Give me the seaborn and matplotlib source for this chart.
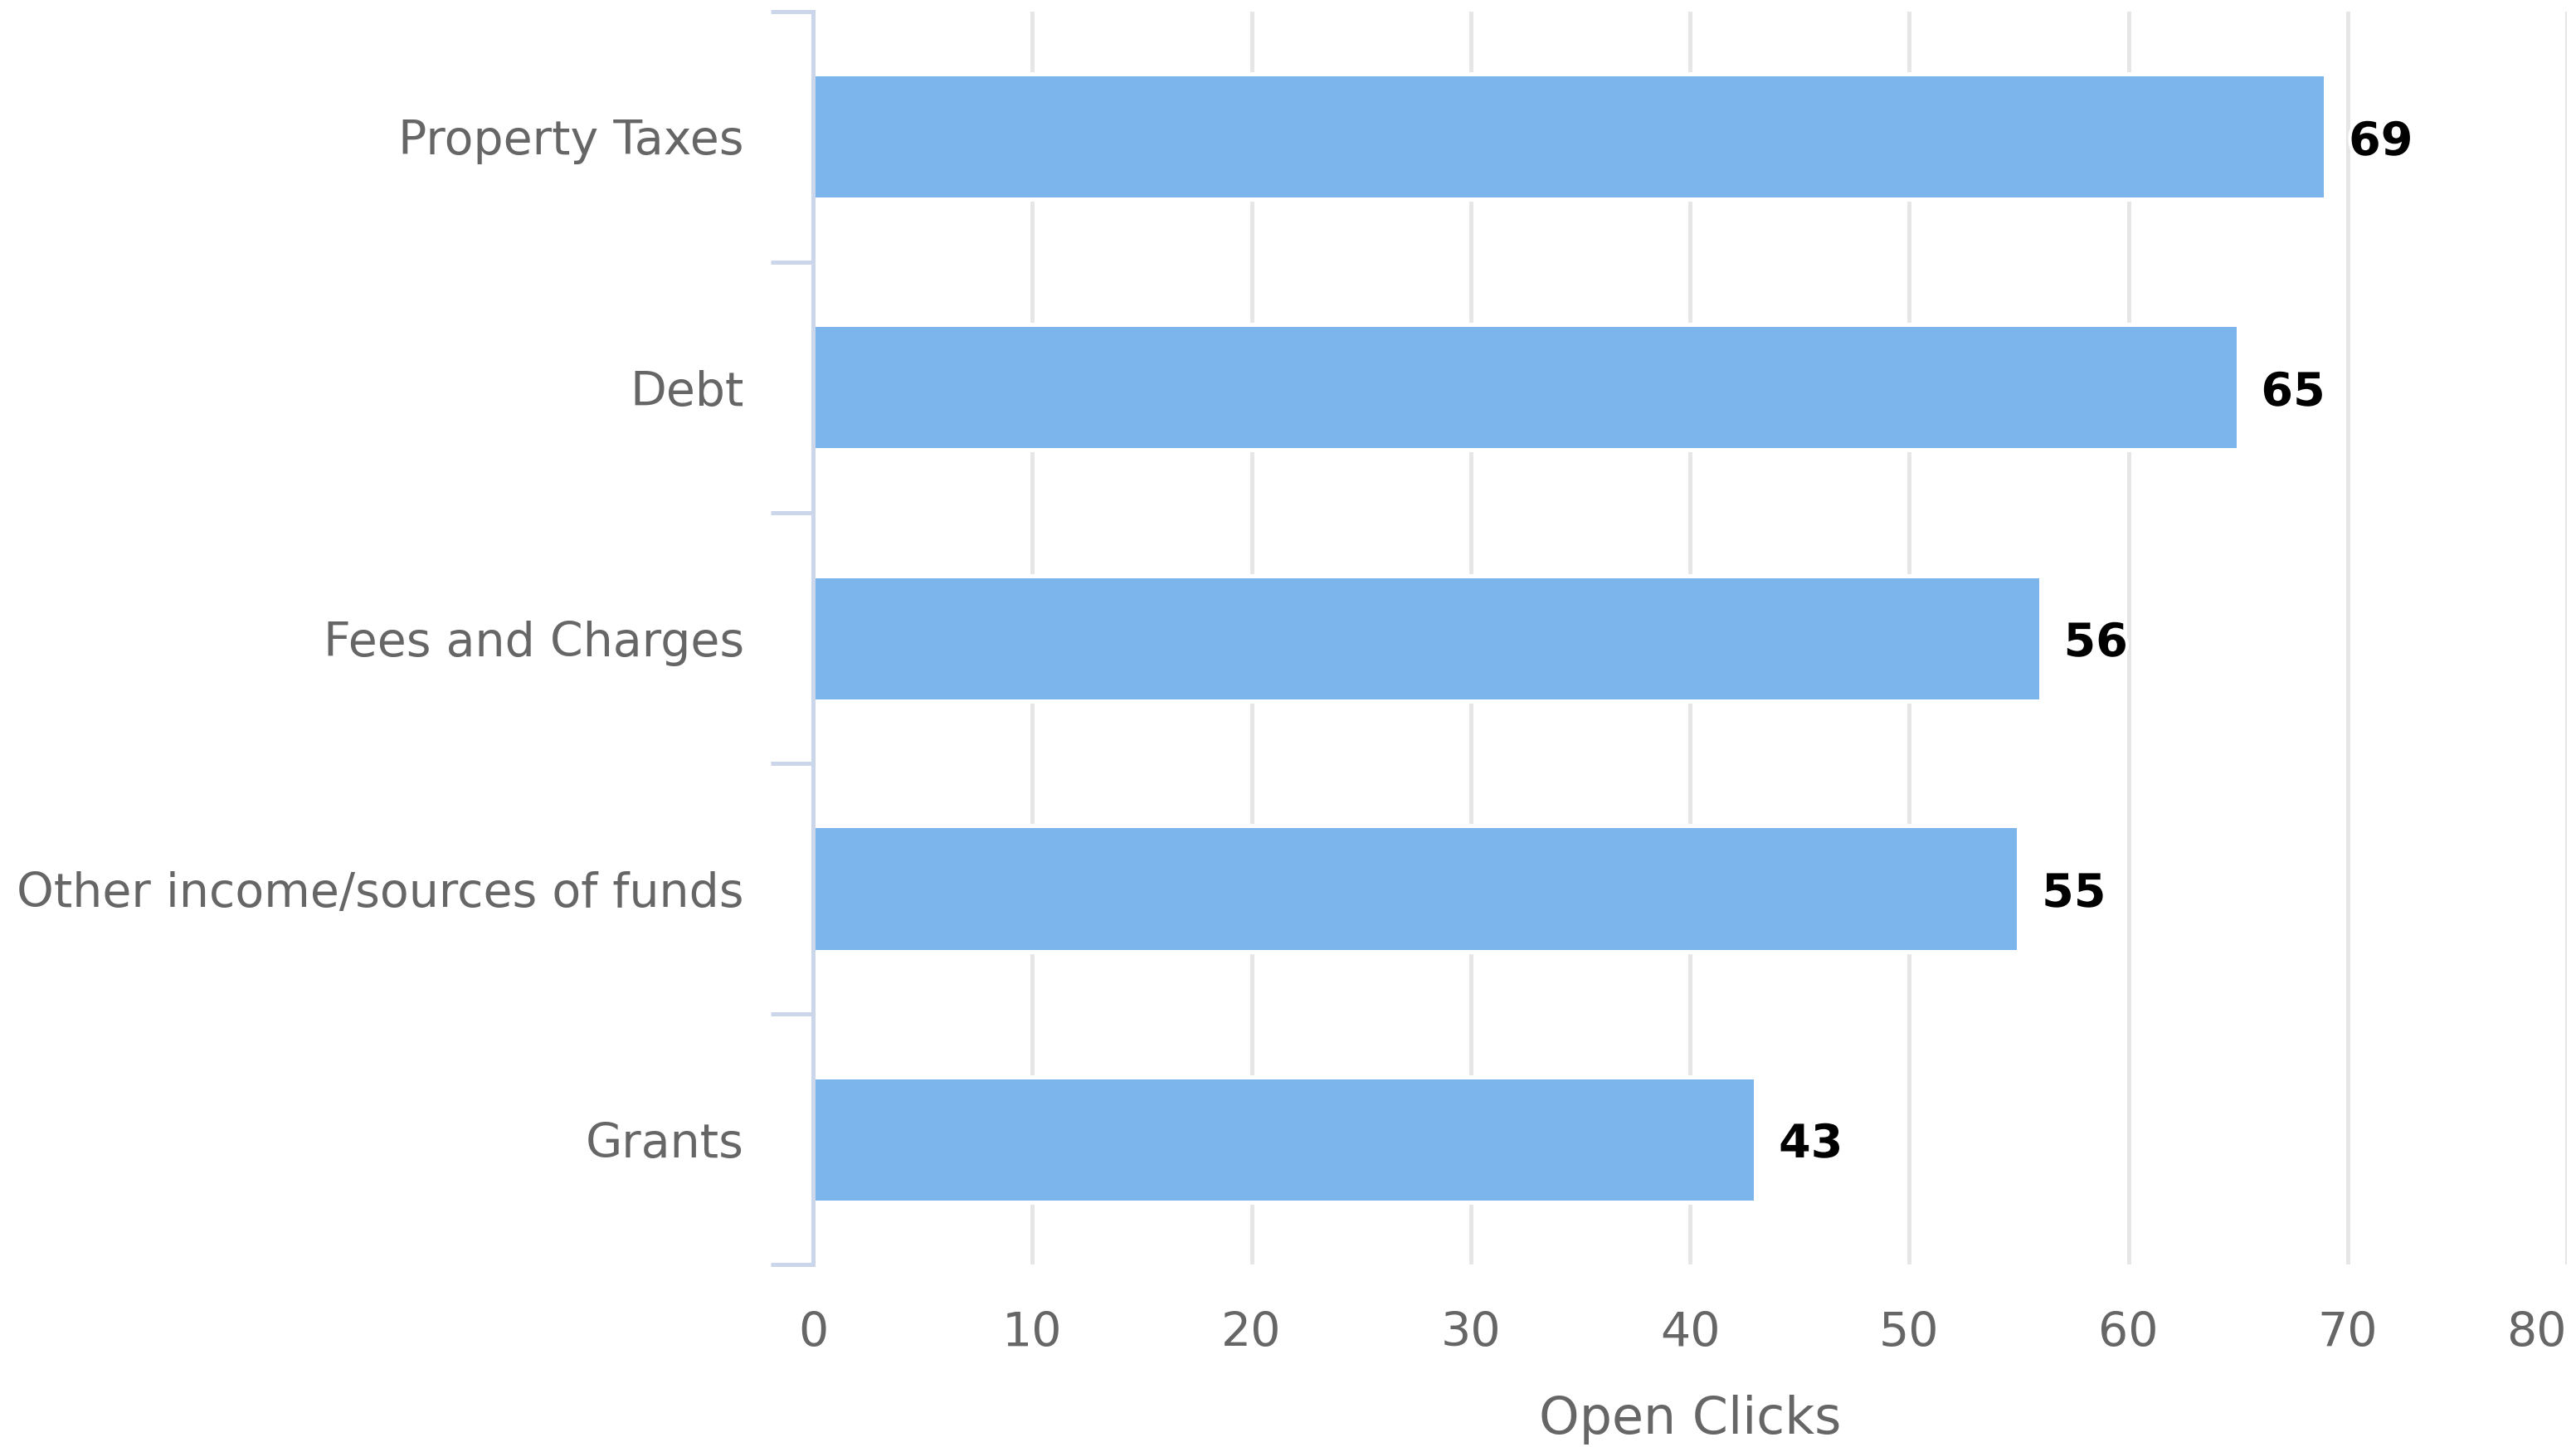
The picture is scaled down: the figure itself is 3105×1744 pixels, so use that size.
import matplotlib
matplotlib.use("Agg")
import matplotlib.pyplot as plt
import matplotlib.patheffects as pe
import seaborn as sns
import pandas as pd

categories = ["Property Taxes", "Debt", "Fees and Charges",
              "Other income/sources of funds", "Grants"]
open_clicks = [69, 65, 56, 55, 43]
x_ticks = [0, 10, 20, 30, 40, 50, 60, 70, 80]
x_label = "Open Clicks"

df = pd.DataFrame({"category": categories, "clicks": open_clicks})

sns.set_theme(style="white")
plt.rcParams['font.family'] = ['DejaVu Sans']

W, H, DPI = 3105, 1744, 200
fig = plt.figure(figsize=(W / DPI, H / DPI), dpi=DPI)
ax = fig.add_axes([980 / W, 1 - 1524 / H, (3094 - 980) / W, (1524 - 14) / H])

sns.barplot(data=df, x="clicks", y="category", orient="h", color="#7cb5ec",
            saturation=1, width=0.5, edgecolor="white", linewidth=1.8, ax=ax)

ax.set_xlim(0, 80)
ax.set_ylim(len(categories) - 0.5, -0.5)

# grid
ax.set_xticks(x_ticks)
ax.set_xticklabels([str(t) for t in x_ticks])
ax.xaxis.grid(True, color="#e6e6e6", linewidth=1.8)
ax.yaxis.grid(False)
ax.set_axisbelow(True)

# spines
for s in ["top", "right", "bottom"]:
    ax.spines[s].set_visible(False)
ax.spines["left"].set_color("#ccd6eb")
ax.spines["left"].set_linewidth(1.8)

# y ticks: labels at centers, tick marks at boundaries
ax.set_yticks(range(len(categories)))
ax.set_yticks([i - 0.5 for i in range(len(categories) + 1)], minor=True)
ax.tick_params(axis="y", which="major", length=0, pad=30,
               labelsize=20.5, labelcolor="#666666")
ax.tick_params(axis="y", which="minor", left=True, length=18.4, width=1.8,
               color="#ccd6eb", direction="out")
ax.tick_params(axis="x", which="both", length=0, pad=20,
               labelsize=20.5, labelcolor="#666666")
ax.get_xticklabels()[-1].set_ha("right")

ax.set_ylabel("")
ax.set_xlabel(x_label, fontsize=22.3, color="#666666")
ax.xaxis.set_label_coords(0.5, -(1711 - 1524) / (1524 - 14))
ax.xaxis.label.set_va("center")

for patch, v in zip(ax.containers[0], open_clicks):
    ax.annotate(str(v),
                xy=(patch.get_x() + patch.get_width(),
                    patch.get_y() + patch.get_height() / 2),
                xytext=(10, -2.5), textcoords="offset points",
                ha="left", va="center", fontsize=20, fontweight="bold",
                color="black",
                path_effects=[pe.withStroke(linewidth=3, foreground="white")])

fig.savefig("out.png", dpi=DPI, facecolor="white")
